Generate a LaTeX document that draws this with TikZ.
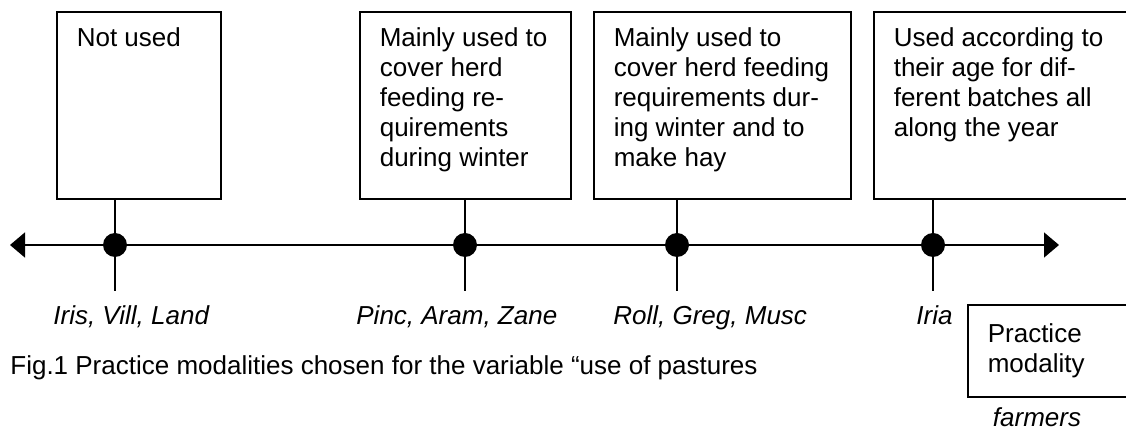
\documentclass[tikz,border=0pt]{standalone}
\usepackage{fontspec}
\setmainfont{Liberation Sans}
\usepackage{tikz}
\usetikzlibrary{arrows.meta,positioning}

\newcommand{\boxtext}[3]{\parbox[t][#1][t]{#2}{\raggedright #3}}

\tikzset{
	modbox/.style={draw,line width=0.8pt,anchor=north west,inner xsep=10pt,inner ysep=8pt,align=left},
	dot/.style={circle,fill=black,minimum size=12pt,inner sep=0pt},
	stem/.style={line width=0.8pt},
	farmer/.style={anchor=base west,inner sep=0pt,font=\itshape\fontsize{13}{15}\selectfont},
}

\begin{document}
\begin{tikzpicture}[x=0.5pt,y=-0.5pt,font=\fontsize{13}{15}\selectfont]
		\clip (0,0) rectangle (1126,432);
		% modality boxes
		\node[modbox] (use1) at (56,11) {\boxtext{77.5pt}{62pt}{Not used}};
		\node[modbox] (use2) at (359,11) {\boxtext{77.5pt}{85.5pt}{Mainly used to\\cover herd\\feeding re-\\quirements\\during winter}};
		\node[modbox] (use3) at (593,11) {\boxtext{77.5pt}{108.5pt}{Mainly used to\\cover herd feeding\\requirements dur-\\ing winter and to\\make hay}};
		\node[modbox] (use4) at (873,11) {\boxtext{77.5pt}{113.5pt}{Used according to\\their age for dif-\\ferent batches all\\along the year}};
		% axis
		\coordinate (axl) at (10,245);
		\coordinate (axr) at (1059,245);
		\draw[line width=0.8pt,{Triangle[length=7.5pt,width=12.5pt]}-{Triangle[length=7.5pt,width=12.5pt]}] (axl) -- (axr);
		\coordinate (t1) at (115,291);
		\coordinate (t2) at (465,291);
		\coordinate (t3) at (677,291);
		\coordinate (t4) at (933,291);
		\foreach \i in {1,2,3,4}{
			\draw[stem] (t\i |- use\i.south) -- (t\i);
			\node[dot] (d\i) at (t\i |- axl) {};
		}
		% farmers under each modality
		\node[farmer] (f1) at (53,325) {Iris, Vill, Land};
		\node[farmer] (f2) at (356,325) {Pinc, Aram, Zane};
		\node[farmer] (f3) at (613,325) {Roll, Greg, Musc};
		\node[farmer] (f4) at (916,325) {Iria};
		\node[anchor=base west,inner sep=0pt] (cap) at (10,375) {Fig.1 Practice modalities chosen for the variable “use of pastures};
		% key
		\node[modbox,inner ysep=9.5pt] (key) at (967,304) {\boxtext{27pt}{64pt}{Practice\\modality}};
		\node[farmer,anchor=base] (keyf) at (1037,427) {farmers};
	\end{tikzpicture}
\end{document}
